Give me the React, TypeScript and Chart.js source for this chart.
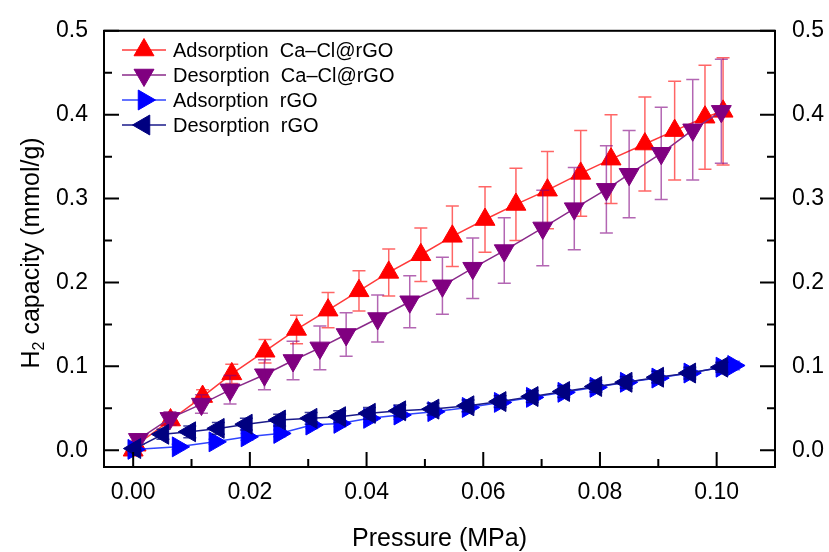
import React, { useEffect, useRef } from 'react';
import { Chart, registerables } from 'chart.js';

Chart.register(...registerables);

// ---------- data ----------
const adsCaX = [0.0, 0.0005, 0.0064, 0.0119, 0.0169, 0.0226, 0.028, 0.0334, 0.0387, 0.0438, 0.0493, 0.0547, 0.0603, 0.0656, 0.071, 0.0767, 0.0819, 0.0877, 0.0928, 0.098, 0.1011];
const adsCaY = [0.0, 0.006, 0.036, 0.064, 0.091, 0.118, 0.144, 0.167, 0.19, 0.212, 0.233, 0.255, 0.275, 0.293, 0.31, 0.33, 0.347, 0.365, 0.381, 0.397, 0.404];
const adsCaErr = [0.002, 0.003, 0.006, 0.008, 0.0115, 0.014, 0.017, 0.021, 0.024, 0.028, 0.032, 0.036, 0.039, 0.043, 0.046, 0.051, 0.053, 0.056, 0.059, 0.062, 0.064];

const desCaX = [0.0009, 0.0063, 0.0117, 0.0166, 0.0225, 0.0274, 0.032, 0.0365, 0.0419, 0.0474, 0.053, 0.0582, 0.0636, 0.0702, 0.0756, 0.0811, 0.085, 0.0905, 0.0959, 0.1008];
const desCaY = [0.013, 0.038, 0.055, 0.072, 0.09, 0.107, 0.122, 0.138, 0.157, 0.177, 0.196, 0.217, 0.238, 0.265, 0.288, 0.311, 0.329, 0.354, 0.382, 0.404];
const desCaErr = [0.006, 0.008, 0.011, 0.017, 0.018, 0.023, 0.026, 0.026, 0.028, 0.031, 0.034, 0.036, 0.039, 0.045, 0.049, 0.052, 0.052, 0.055, 0.06, 0.062];

const adsRgoX = [0.0001, 0.0077, 0.014, 0.0195, 0.0251, 0.0306, 0.0354, 0.0405, 0.0457, 0.0515, 0.0574, 0.0629, 0.0684, 0.0738, 0.0793, 0.0845, 0.0899, 0.0954, 0.1009, 0.1029];
const adsRgoY = [0.001, 0.004, 0.01, 0.016, 0.02, 0.03, 0.032, 0.038, 0.042, 0.046, 0.051, 0.057, 0.063, 0.069, 0.075, 0.081, 0.086, 0.092, 0.099, 0.101];
const adsRgoErr = [0.002, 0.003, 0.003, 0.004, 0.004, 0.004, 0.004, 0.005, 0.005, 0.005, 0.005, 0.005, 0.005, 0.005, 0.005, 0.005, 0.005, 0.005, 0.005, 0.005];

const desRgoX = [0.0003, 0.0051, 0.0097, 0.0146, 0.0194, 0.0251, 0.0305, 0.0354, 0.0405, 0.0457, 0.0514, 0.0574, 0.0629, 0.0684, 0.0738, 0.0793, 0.0845, 0.0899, 0.0954, 0.1009];
const desRgoY = [0.002, 0.019, 0.022, 0.026, 0.031, 0.036, 0.038, 0.04, 0.044, 0.047, 0.049, 0.053, 0.058, 0.064, 0.07, 0.076, 0.081, 0.087, 0.092, 0.099];
const desRgoErr = [0.002, 0.006, 0.007, 0.007, 0.007, 0.007, 0.007, 0.007, 0.007, 0.007, 0.007, 0.007, 0.007, 0.007, 0.007, 0.007, 0.007, 0.007, 0.007, 0.006];

const seriesLabels = ['Adsorption  Ca\u2013Cl@rGO', 'Desorption  Ca\u2013Cl@rGO', 'Adsorption  rGO', 'Desorption  rGO'];

const xTickValues = [0, 0.02, 0.04, 0.06, 0.08, 0.1];
const xTickLabels = ['0.00', '0.02', '0.04', '0.06', '0.08', '0.10'];
const xMinorValues = [0.01, 0.03, 0.05, 0.07, 0.09];
const yTickValues = [0, 0.1, 0.2, 0.3, 0.4, 0.5];
const yTickLabels = ['0.0', '0.1', '0.2', '0.3', '0.4', '0.5'];
const yMinorValues = [0.05, 0.15, 0.25, 0.35, 0.45];

const xTitle = 'Pressure (MPa)';
const yTitleMain = 'H';
const yTitleSub = '2';
const yTitleRest = ' capacity (mmol/g)';

// ---------- styles ----------
const FONT = '"Liberation Sans", Arial, Helvetica, sans-serif';
const styles = [
  { marker: '#FF0000', line: '#FF3A3A', err: 'rgba(255,0,0,0.6)', rot: 0 },
  { marker: '#800080', line: '#8A2A8A', err: 'rgba(128,0,128,0.6)', rot: 180 },
  { marker: '#0000FF', line: '#3045FF', err: 'rgba(0,0,255,0.55)', rot: 90 },
  { marker: '#000080', line: '#1A1A8A', err: 'rgba(0,0,128,0.75)', rot: 270 },
];
const series = [
  { x: adsCaX, y: adsCaY, err: adsCaErr },
  { x: desCaX, y: desCaY, err: desCaErr },
  { x: adsRgoX, y: adsRgoY, err: adsRgoErr },
  { x: desRgoX, y: desRgoY, err: desRgoErr },
];
const R = 11.5;

function triangle(ctx: CanvasRenderingContext2D, x: number, y: number, r: number, rotDeg: number) {
  let rad = (rotDeg * Math.PI) / 180;
  ctx.beginPath();
  ctx.moveTo(x + Math.sin(rad) * r, y - Math.cos(rad) * r);
  rad += (2 * Math.PI) / 3;
  ctx.lineTo(x + Math.sin(rad) * r, y - Math.cos(rad) * r);
  rad += (2 * Math.PI) / 3;
  ctx.lineTo(x + Math.sin(rad) * r, y - Math.cos(rad) * r);
  ctx.closePath();
}

const decor = {
  id: 'decor',
  afterDatasetDraw(chart: any, args: any) {
    const i = args.index;
    const s = series[i];
    const st = styles[i];
    const xs = chart.scales.x;
    const ys = chart.scales.y;
    const ctx: CanvasRenderingContext2D = chart.ctx;
    ctx.save();
    ctx.strokeStyle = st.err;
    ctx.lineWidth = 1.5;
    const cap = 6.5;
    s.x.forEach((xv: number, j: number) => {
      const px = xs.getPixelForValue(xv);
      const pt = ys.getPixelForValue(s.y[j] + s.err[j]);
      const pb = ys.getPixelForValue(s.y[j] - s.err[j]);
      ctx.beginPath();
      ctx.moveTo(px, pt);
      ctx.lineTo(px, pb);
      ctx.moveTo(px - cap, pt);
      ctx.lineTo(px + cap, pt);
      ctx.moveTo(px - cap, pb);
      ctx.lineTo(px + cap, pb);
      ctx.stroke();
    });
    ctx.restore();
  },
  afterDraw(chart: any) {
    const ctx: CanvasRenderingContext2D = chart.ctx;
    const a = chart.chartArea;
    const xs = chart.scales.x;
    const ys = chart.scales.y;
    ctx.save();
    ctx.strokeStyle = '#000';
    ctx.lineWidth = 2;
    ctx.strokeRect(a.left, a.top, a.right - a.left, a.bottom - a.top);
    const MAJ = 15;
    const MIN = 8;
    ctx.beginPath();
    xTickValues.forEach((v) => {
      const p = xs.getPixelForValue(v);
      ctx.moveTo(p, a.bottom);
      ctx.lineTo(p, a.bottom - MAJ);
    });
    xMinorValues.forEach((v) => {
      const p = xs.getPixelForValue(v);
      ctx.moveTo(p, a.bottom);
      ctx.lineTo(p, a.bottom - MIN);
    });
    yTickValues.forEach((v) => {
      const p = ys.getPixelForValue(v);
      ctx.moveTo(a.left, p);
      ctx.lineTo(a.left + MAJ, p);
      ctx.moveTo(a.right, p);
      ctx.lineTo(a.right - MAJ, p);
    });
    yMinorValues.forEach((v) => {
      const p = ys.getPixelForValue(v);
      ctx.moveTo(a.left, p);
      ctx.lineTo(a.left + MIN, p);
      ctx.moveTo(a.right, p);
      ctx.lineTo(a.right - MIN, p);
    });
    ctx.stroke();

    // titles
    ctx.fillStyle = '#000';
    ctx.font = `25px ${FONT}`;
    ctx.textAlign = 'center';
    ctx.textBaseline = 'alphabetic';
    ctx.fillText(xTitle, (a.left + a.right) / 2, 546);

    ctx.save();
    ctx.translate(39, (a.top + a.bottom) / 2 + 4);
    ctx.rotate(-Math.PI / 2);
    ctx.textAlign = 'left';
    ctx.font = `25px ${FONT}`;
    const wH = ctx.measureText(yTitleMain).width;
    const wR = ctx.measureText(yTitleRest).width;
    ctx.font = `16px ${FONT}`;
    const w2 = ctx.measureText(yTitleSub).width;
    let cx = -(wH + w2 + wR) / 2;
    ctx.font = `25px ${FONT}`;
    ctx.fillText(yTitleMain, cx, 0);
    cx += wH;
    ctx.font = `16px ${FONT}`;
    ctx.fillText(yTitleSub, cx, 5);
    cx += w2;
    ctx.font = `25px ${FONT}`;
    ctx.fillText(yTitleRest, cx, 0);
    ctx.restore();

    // legend
    const rows = [50, 75, 100, 125];
    ctx.font = `20px ${FONT}`;
    ctx.textAlign = 'left';
    ctx.textBaseline = 'middle';
    seriesLabels.forEach((lab, i) => {
      const y = rows[i];
      const st = styles[i];
      ctx.strokeStyle = st.line;
      ctx.lineWidth = 1.5;
      ctx.beginPath();
      ctx.moveTo(122, y);
      ctx.lineTo(166, y);
      ctx.stroke();
      ctx.fillStyle = st.marker;
      ctx.strokeStyle = st.marker;
      ctx.lineWidth = 1;
      triangle(ctx, 144, y, R, st.rot);
      ctx.fill();
      ctx.stroke();
      ctx.fillStyle = '#000';
      ctx.fillText(lab, 173, y + 1);
    });
    ctx.restore();
  },
};

export default function App() {
  const ref = useRef<HTMLCanvasElement>(null);
  useEffect(() => {
    const datasets = series.map((s, i) => ({
      label: seriesLabels[i],
      data: s.x.map((xv, j) => ({ x: xv, y: s.y[j] })),
      showLine: true,
      borderColor: styles[i].line,
      borderWidth: 1.5,
      backgroundColor: styles[i].marker,
      pointBackgroundColor: styles[i].marker,
      pointBorderColor: styles[i].marker,
      pointBorderWidth: 1,
      pointStyle: 'triangle',
      pointRotation: styles[i].rot,
      pointRadius: R,
      tension: 0,
      order: 4 - i,
      yAxisID: 'y',
    }));
    const tickFont = { family: FONT, size: 23 };
    const chart = new Chart(ref.current as HTMLCanvasElement, {
      type: 'scatter',
      data: { datasets },
      plugins: [decor],
      options: {
        animation: false,
        responsive: false,
        devicePixelRatio: 1,
        layout: { padding: { top: 24, left: 0, right: 0, bottom: 0 } },
        plugins: { legend: { display: false }, tooltip: { enabled: false } },
        scales: {
          x: {
            type: 'linear',
            position: 'bottom',
            min: -0.005,
            max: 0.11,
            grid: { display: false, drawTicks: false },
            border: { display: false },
            afterBuildTicks: (sc: any) => {
              sc.ticks = xTickValues.map((v) => ({ value: v }));
            },
            afterFit: (sc: any) => {
              sc.height = 85;
            },
            ticks: {
              autoSkip: false,
              maxRotation: 0,
              padding: 12,
              color: '#000',
              font: tickFont,
              callback: (_v: any, idx: number) => xTickLabels[idx],
            },
          },
          y: {
            type: 'linear',
            position: 'left',
            min: -0.02,
            max: 0.5,
            grid: { display: false, drawTicks: false },
            border: { display: false },
            afterBuildTicks: (sc: any) => {
              sc.ticks = yTickValues.map((v) => ({ value: v }));
            },
            afterFit: (sc: any) => {
              sc.width = 104;
            },
            ticks: {
              padding: 16,
              color: '#000',
              font: tickFont,
              callback: (_v: any, idx: number) => yTickLabels[idx],
            },
          },
          y2: {
            type: 'linear',
            position: 'right',
            min: -0.02,
            max: 0.5,
            display: true,
            grid: { display: false, drawTicks: false },
            border: { display: false },
            afterBuildTicks: (sc: any) => {
              sc.ticks = yTickValues.map((v) => ({ value: v }));
            },
            afterFit: (sc: any) => {
              sc.width = 54;
            },
            ticks: {
              padding: 17,
              color: '#000',
              font: tickFont,
              callback: (_v: any, idx: number) => yTickLabels[idx],
            },
          },
        },
      } as any,
    });
    return () => chart.destroy();
  }, []);
  return (
    <div style={{ position: 'fixed', left: 0, top: 0, width: 829, height: 552, background: '#fff' }}>
      <canvas ref={ref} width={829} height={552} style={{ display: 'block' }} />
    </div>
  );
}
